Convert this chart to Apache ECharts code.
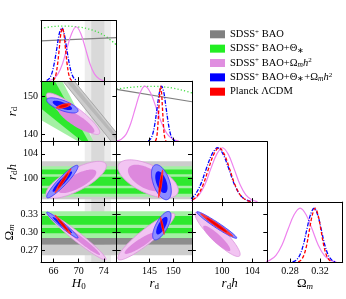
<!DOCTYPE html>
<html><head><meta charset="utf-8">
<script src="https://cdn.jsdelivr.net/npm/echarts@6/dist/echarts.min.js"></script>
<style>html,body{margin:0;padding:0;background:#fff}#c{width:346px;height:299px}</style>
</head><body><div id="c"></div>
<script>
const FONT = 'Liberation Serif';
// ---- axes (parameter order: H0, rd, rd*h, Omega_m) ----
const pMin = [64, 138, 96, 0.25];
const pMax = [76, 154, 106, 0.35];
const xTicks = [[66, 70, 74], [145, 150], [100, 104], [0.28, 0.32]];
const yTicks = [[], [140, 150], [100, 104], [0.27, 0.30, 0.33]];
const tickDecimals = [0, 0, 0, 2];
const axisNames = ['{i|H}{s|0}', '{i|r}{s|d}', '{i|r}{s|d}{i|h}', '{n|Ω}{si|m}'];

// ---- 1D marginals (x, relative probability) ----
const h0Pink = [[65.25,.01],[65.98,.04],[66.7,.12],[67.43,.29],[68.15,.55],[68.88,.79],[69.6,.9],[70.33,.79],[71.05,.55],[71.78,.29],[72.5,.12],[73.23,.04],[73.95,.01]];
const h0Blue = [[64.9,.01],[65.3,.04],[65.7,.12],[66.1,.29],[66.5,.53],[66.9,.78],[67.3,.88],[67.7,.78],[68.1,.53],[68.5,.29],[68.9,.12],[69.3,.04],[69.7,.01]];
const h0Red = [[65.9,.01],[66.15,.04],[66.4,.12],[66.65,.29],[66.9,.53],[67.15,.78],[67.4,.88],[67.65,.78],[67.9,.53],[68.15,.29],[68.4,.12],[68.65,.04],[68.9,.01]];
const h0Green = [[64,.87],[66,.905],[67.8,.91],[70,.895],[72,.85],[74,.76],[76,.6]];
const h0Grey = [[64,.665],[76,.72]];
const rdPink = [[138,.01],[139,.04],[140,.12],[141,.3],[142,.56],[143,.81],[144,.92],[145.2,.81],[146.4,.56],[147.6,.3],[148.8,.12],[150,.04],[151.2,.01]];
const rdBlue = [[144.7,.01],[145.18,.04],[145.65,.12],[146.13,.3],[146.6,.56],[147.08,.81],[147.55,.92],[148.03,.81],[148.5,.56],[148.98,.3],[149.45,.12],[149.93,.04],[150.4,.01]];
const rdRed = [[146.21,.01],[146.4,.04],[146.59,.12],[146.78,.3],[146.97,.56],[147.16,.81],[147.35,.92],[147.54,.81],[147.73,.56],[147.92,.3],[148.11,.12],[148.3,.04],[148.49,.01]];
const rdGreen = [[138,.87],[140,.89],[142,.905],[144,.915],[146,.915],[148,.905],[150,.885],[152,.85],[154,.805]];
const rdGrey = [[138,.865],[154,.66]];
const rdhPink = [[95.4,.01],[96.18,.04],[96.95,.12],[97.73,.29],[98.5,.55],[99.28,.79],[100.05,.9],[100.83,.79],[101.6,.55],[102.38,.29],[103.15,.12],[103.93,.04],[104.7,.01]];
const rdhBlue = [[94.9,.01],[95.65,.04],[96.4,.12],[97.15,.29],[97.9,.55],[98.65,.79],[99.4,.9],[100.15,.79],[100.9,.55],[101.65,.29],[102.4,.12],[103.15,.04],[103.9,.01]];
const rdhRed = [[95.4,.01],[96.1,.04],[96.8,.12],[97.5,.29],[98.2,.55],[98.9,.79],[99.6,.9],[100.3,.79],[101,.55],[101.7,.29],[102.4,.12],[103.1,.04],[103.8,.01]];
const omPink = [[.2455,.01],[.2535,.04],[.2615,.12],[.2695,.29],[.2775,.55],[.2855,.79],[.2935,.9],[.3015,.79],[.3095,.55],[.3175,.29],[.3255,.12],[.3335,.04],[.3415,.01]];
const omBlue = [[.2835,.01],[.28825,.04],[.293,.12],[.29775,.29],[.3025,.55],[.30725,.79],[.312,.9],[.31675,.79],[.3215,.55],[.32625,.29],[.331,.12],[.33575,.04],[.3405,.01]];
const omRed = [[.291,.01],[.29475,.04],[.2985,.12],[.30225,.29],[.306,.55],[.30975,.79],[.3135,.9],[.31725,.79],[.321,.55],[.32475,.29],[.3285,.12],[.33225,.04],[.336,.01]];

// ---- 2D constraints ----
const sh0es2s = [70.96, 75.12];
const sh0es1s = [72.0, 74.08];
const baoBandOuter = [[67.5,154],[69.3,154],[76,140.4],[76,138],[75.2,138]];
const baoBandInner = [[68.0,154],[68.9,154],[76,139.6],[76,138.5]];
const greenLightPoly = [[64,154],[67.4,154],[72.4,138],[70.0,138],[64,143.7]];
const greenBrightPoly = [[64,154],[66.2,154],[71.6,138],[70.6,138],[64,146.8]];
const rdhGreyStripe = [96.5, 102.75];
const rdhGreenLight = [96.9, 101.95];
const rdhGreenBright = [[100.6, 101.4], [98.7, 100.2], [97.4, 98.3]];
const omGreyLight = [0.262, 0.2795];
const omGreyDark = [0.2795, 0.2905];
const omGreenLight = [0.2905, 0.335];
const omGreenBright = [[0.3125, 0.327], [0.2985, 0.307]];
// ellipses: [centre x, centre y, half-extent x, half-extent y, correlation]
const pinkOuter = {'0-1':[69.1,145.4,4.25,5.5,-0.9],'0-2':[69.6,99.7,4.8,3.05,0.75],'0-3':[69.7,0.293,4.65,0.0386,-0.97],'1-2':[144.7,99.85,6.4,3.15,-0.6],'1-3':[144.3,0.293,6.05,0.0386,0.92],'2-3':[99.4,0.297,3.0,0.037,-0.9]};
const pinkInner = {'0-1':[69.6,143.6,2.9,3.3,-0.85],'0-2':[69.75,99.45,3.05,1.95,0.75],'0-3':[70.5,0.2864,2.9,0.024,-0.97],'1-2':[144.3,100,3.9,2.2,-0.55],'1-3':[143.05,0.282,3.35,0.0177,0.9],'2-3':[99.3,0.29,1.8,0.021,-0.9]};
const blueOuter = {'0-1':[67.4,147.6,2.5,2.0,-0.7],'0-2':[67.4,99.4,2.5,2.7,0.93],'0-3':[67.4,0.312,2.5,0.0215,-0.97],'1-2':[147.5,99.3,2.1,2.9,-0.5],'1-3':[147.6,0.311,1.95,0.0235,0.7],'2-3':[99.3,0.312,2.65,0.022,-0.97]};
const redOuter = {'0-1':[67.6,147.45,1.2,0.75,0.6],'0-2':[67.5,99.55,1.33,2.05,0.97],'0-3':[67.5,0.3125,1.33,0.0165,-0.97],'1-2':[147.35,99.05,0.55,2.35,0.8],'1-3':[147.7,0.311,0.5,0.0152,-0.85],'2-3':[99.3,0.312,2.2,0.0194,-0.98]};
const innerScale = 0.62;

// ---- styling ----
const C = {
  band2: '#ececec', band1: '#d9d9d9',
  greyDark: '#8c8c8c', greyLight: '#cccccc', greyLine: '#808080',
  greenBright: '#2ee82e', greenLight: '#a3f0a3', greenLine: '#44dd44',
  pinkLight: '#f2c4f2', pinkDark: '#dd88dd', pinkStroke: '#dc96dc', pinkLine: '#ee82ee',
  blueLight: '#8c8cff', blueDark: '#1010ff', blueStroke: '#3030ff',
  redOuter: '#ff3333', redInner: '#ee0000'
};
const legendIds = ['bao', 'baoTheta', 'baoOmh2', 'baoAll', 'planck'];
const legendColors = ['#808080', '#22ee22', '#e08fe0', '#0000ff', '#ff0000'];
const legendText = {
  bao: '{n|SDSS}{sup|+}{n| BAO}',
  baoTheta: '{n|SDSS}{sup|+}{n| BAO+Θ}{sub|∗}',
  baoOmh2: '{n|SDSS}{sup|+}{n| BAO+Ω}{subi|m}{it|h}{sup|2}',
  baoAll: '{n|SDSS}{sup|+}{n| BAO+Θ}{sub|∗}{n|+Ω}{subi|m}{it|h}{sup|2}',
  planck: '{n|Planck ΛCDM}'
};

const COL_LEFT = [41, 116.6, 191.9, 267.3], W = 75.4;
const ROW_TOP = [20.7, 81.2, 141.7, 202.1], H = 60.45;

const grids = [], xAxes = [], yAxes = [], series = [];
const nameRich = {
  i: {fontFamily: FONT, fontStyle: 'italic', fontSize: 13, lineHeight: 14, color: '#000'},
  n: {fontFamily: FONT, fontSize: 13, lineHeight: 14, color: '#000'},
  s: {fontFamily: FONT, fontSize: 9, lineHeight: 8, verticalAlign: 'bottom', color: '#000'},
  si: {fontFamily: FONT, fontStyle: 'italic', fontSize: 9, lineHeight: 8, verticalAlign: 'bottom', color: '#000'}
};
function fmt(p, v) { return Number(v).toFixed(tickDecimals[p]); }

function addPanel(r, c) {
  const gi = grids.length;
  grids.push({left: COL_LEFT[c], top: ROW_TOP[r], width: W, height: H, show: false});
  const diag = r === c;
  const xi = xAxes.length, yi = yAxes.length;
  const base = {type: 'value', gridIndex: gi, z: 10, splitLine: {show: false},
    axisLine: {show: true, onZero: false, lineStyle: {color: '#000', width: 1}}};
  const lab = {fontFamily: FONT, fontSize: 10, color: '#000'};
  xAxes.push(Object.assign({}, base, {position: 'bottom', min: pMin[c], max: pMax[c],
    axisTick: {show: true, inside: true, length: 4, customValues: xTicks[c], lineStyle: {color: '#000'}},
    axisLabel: Object.assign({show: r === 3, customValues: xTicks[c], formatter: v => fmt(c, v), margin: 4}, lab),
    name: r === 3 ? axisNames[c] : '', nameLocation: 'middle', nameGap: 14,
    nameTextStyle: {rich: nameRich}}));
  xAxes.push(Object.assign({}, base, {position: 'top', min: pMin[c], max: pMax[c],
    axisTick: {show: !diag, inside: true, length: 4, customValues: xTicks[c], lineStyle: {color: '#000'}},
    axisLabel: {show: false}}));
  if (diag) {
    yAxes.push(Object.assign({}, base, {position: 'left', min: 0, max: 1, axisTick: {show: false}, axisLabel: {show: false}}));
    yAxes.push(Object.assign({}, base, {position: 'right', min: 0, max: 1, axisTick: {show: false}, axisLabel: {show: false}}));
  } else {
    yAxes.push(Object.assign({}, base, {position: 'left', min: pMin[r], max: pMax[r],
      axisTick: {show: true, inside: true, length: 4, customValues: yTicks[r], lineStyle: {color: '#000'}},
      axisLabel: Object.assign({show: c === 0, customValues: yTicks[r], formatter: v => fmt(r, v), margin: 3}, lab),
      name: c === 0 ? axisNames[r] : '', nameLocation: 'middle', nameRotate: 90, nameGap: 21,
      nameTextStyle: {rich: nameRich}}));
    yAxes.push(Object.assign({}, base, {position: 'right', min: pMin[r], max: pMax[r],
      axisTick: {show: true, inside: true, length: 4, customValues: yTicks[r], lineStyle: {color: '#000'}},
      axisLabel: {show: false}}));
  }
  return {xi, yi};
}

function ellipsePts(api, e) {
  const [cx, cy, ax, ay, rho] = e;
  const q = Math.sqrt(1 - rho * rho), pts = [];
  for (let i = 0; i < 90; i++) {
    const t = i / 90 * 2 * Math.PI, ct = Math.cos(t), st = Math.sin(t);
    pts.push(api.coord([cx + ax * ct, cy + ay * (rho * ct + q * st)]));
  }
  return pts;
}
function scaled(e) { return [e[0], e[1], e[2] * innerScale, e[3] * innerScale, e[4]]; }

function addShapes(name, shapes, ax, xp, yRange) {
  if (!shapes.length) return;
  series.push({
    type: 'custom', name: name, coordinateSystem: 'cartesian2d', xAxisIndex: ax.xi, yAxisIndex: ax.yi,
    clip: true, silent: true, z: 2, itemStyle: {color: legendColors[legendIds.indexOf(name)] || '#ccc'},
    data: shapes.map(() => [pMin[xp], yRange[0]]), encode: {x: 0, y: 1},
    renderItem: function (params, api) {
      const s = shapes[params.dataIndex];
      let pts;
      if (s.k === 'ell') pts = ellipsePts(api, s.e);
      else if (s.k === 'poly') pts = s.pts.map(p => api.coord(p));
      else if (s.k === 'h') pts = [[pMin[xp], s.v[0]], [pMax[xp], s.v[0]], [pMax[xp], s.v[1]], [pMin[xp], s.v[1]]].map(p => api.coord(p));
      else pts = [[s.v[0], yRange[0]], [s.v[1], yRange[0]], [s.v[1], yRange[1]], [s.v[0], yRange[1]]].map(p => api.coord(p));
      return {type: 'polygon', shape: {points: pts},
        style: {fill: s.fill, stroke: s.stroke || null, lineWidth: s.lw || 0}};
    }
  });
}

function addLine(name, data, ax, color, type, width) {
  series.push({type: 'line', name: name, xAxisIndex: ax.xi, yAxisIndex: ax.yi, data: data,
    showSymbol: false, symbol: 'none', smooth: 0.35, silent: true, z: 3, clip: true,
    lineStyle: {color: color, width: width || 1.2, type: type}});
}

// diagonal 1D panels
const oneD = [
  {pink: h0Pink, blue: h0Blue, red: h0Red, green: h0Green, grey: h0Grey},
  {pink: rdPink, blue: rdBlue, red: rdRed, green: rdGreen, grey: rdGrey},
  {pink: rdhPink, blue: rdhBlue, red: rdhRed},
  {pink: omPink, blue: omBlue, red: omRed}
];
for (let r = 0; r < 4; r++) {
  for (let c = 0; c <= r; c++) {
    const ax = addPanel(r, c);
    if (r === c) {
      const d = oneD[r];
      if (c === 0) addShapes('sh0es', [{k: 'v', v: sh0es2s, fill: C.band2}, {k: 'v', v: sh0es1s, fill: C.band1}], ax, c, [0, 1]);
      if (d.green) addLine('g1', d.green, ax, C.greenLine, [1.2, 2.2], 1.3);
      if (d.grey) addLine('k1', d.grey, ax, C.greyLine, 'solid', 1.2);
      addLine('p1', d.pink, ax, C.pinkLine, 'solid', 1.2);
      addLine('b1', d.blue, ax, '#0000ff', [4, 1.5, 1, 1.5], 1.3);
      addLine('r1', d.red, ax, '#ff0000', [3.5, 2], 1.3);
      continue;
    }
    const key = c + '-' + r, yr = [pMin[r], pMax[r]];
    if (c === 0) addShapes('sh0es', [{k: 'v', v: sh0es2s, fill: C.band2}, {k: 'v', v: sh0es1s, fill: C.band1}], ax, c, yr);
    const grey = [], green = [];
    if (key === '0-1') {
      grey.push({k: 'poly', pts: baoBandOuter, fill: C.greyLight, stroke: '#9a9a9a', lw: 0.8});
      grey.push({k: 'poly', pts: baoBandInner, fill: '#b8b8b8'});
      green.push({k: 'poly', pts: greenLightPoly, fill: C.greenLight});
      green.push({k: 'poly', pts: greenBrightPoly, fill: C.greenBright});
    } else if (c < 2 && r === 2) {
      grey.push({k: 'h', v: rdhGreyStripe, fill: C.greyLight});
      green.push({k: 'h', v: rdhGreenLight, fill: C.greenLight});
      rdhGreenBright.forEach(v => green.push({k: 'h', v: v, fill: C.greenBright}));
    } else if (c < 2 && r === 3) {
      grey.push({k: 'h', v: omGreyLight, fill: C.greyLight});
      grey.push({k: 'h', v: omGreyDark, fill: C.greyDark});
      green.push({k: 'h', v: omGreenLight, fill: C.greenLight});
      omGreenBright.forEach(v => green.push({k: 'h', v: v, fill: C.greenBright}));
    }
    addShapes('bao', grey, ax, c, yr);
    addShapes('baoTheta', green, ax, c, yr);
    addShapes('baoOmh2', [{k: 'ell', e: pinkOuter[key], fill: C.pinkLight, stroke: C.pinkStroke, lw: 0.8},
                          {k: 'ell', e: pinkInner[key], fill: C.pinkDark}], ax, c, yr);
    addShapes('baoAll', [{k: 'ell', e: blueOuter[key], fill: C.blueLight, stroke: C.blueStroke, lw: 0.8},
                         {k: 'ell', e: scaled(blueOuter[key]), fill: C.blueDark}], ax, c, yr);
    addShapes('planck', [{k: 'ell', e: redOuter[key], fill: C.redOuter},
                         {k: 'ell', e: scaled(redOuter[key]), fill: C.redInner}], ax, c, yr);
  }
}

const chart = echarts.init(document.getElementById('c'));
chart.setOption({
  animation: false,
  backgroundColor: '#fff',
  grid: grids, xAxis: xAxes, yAxis: yAxes, series: series,
  legend: {
    left: 205, top: 23.3, orient: 'vertical', icon: 'rect', itemWidth: 15, itemHeight: 8, itemGap: 2.35,
    selectedMode: false,
    data: legendIds.map((n, i) => ({name: n, itemStyle: {color: legendColors[i], borderWidth: 0}})),
    formatter: n => legendText[n],
    textStyle: {fontFamily: FONT, fontSize: 10, color: '#000', lineHeight: 12,
      rich: {
        n: {fontFamily: FONT, fontSize: 10.5, lineHeight: 12, color: '#000'},
        it: {fontFamily: FONT, fontSize: 10.5, fontStyle: 'italic', lineHeight: 12, color: '#000'},
        sup: {fontFamily: FONT, fontSize: 7, lineHeight: 6, verticalAlign: 'top', color: '#000'},
        sub: {fontFamily: FONT, fontSize: 7.5, lineHeight: 6, verticalAlign: 'bottom', color: '#000'},
        subi: {fontFamily: FONT, fontSize: 7.5, fontStyle: 'italic', lineHeight: 6, verticalAlign: 'bottom', color: '#000'}
      }}
  }
});
</script></body></html>
